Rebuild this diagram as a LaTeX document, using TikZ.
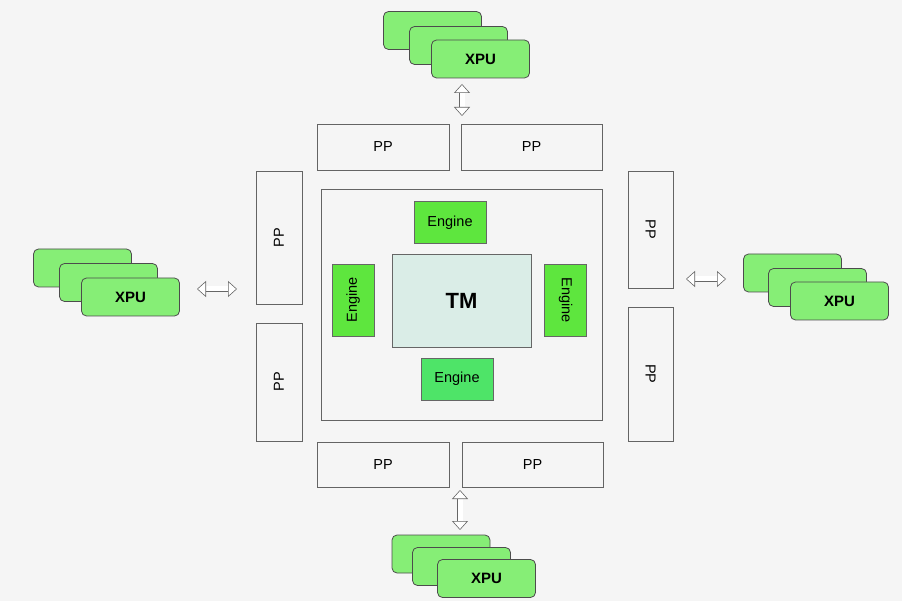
\documentclass[tikz,border=0pt]{standalone}
\usepackage{fontspec}
\setmainfont{Liberation Sans}
\usetikzlibrary{arrows.meta}

\definecolor{bgcol}{RGB}{245,245,245}
\definecolor{xpucol}{RGB}{134,238,118}
\definecolor{engcol}{RGB}{94,230,62}
\definecolor{englow}{RGB}{78,228,104}
\definecolor{tmcol}{RGB}{218,237,231}
\definecolor{linecol}{RGB}{100,100,100}

\begin{document}
\begin{tikzpicture}[x=1pt, y=-1pt,
	xpu/.style={draw=black!70, line width=0.8pt, fill=xpucol, rounded corners=5pt,
		minimum width=98pt, minimum height=38pt, inner sep=0pt,
		font=\fontsize{15}{17}\selectfont\bfseries},
	pp/.style={draw=linecol, line width=0.8pt, fill=bgcol, inner sep=0pt,
		font=\fontsize{14.5}{16}\selectfont},
	engine/.style={draw=black!60, line width=0.8pt, fill=engcol, inner sep=0pt,
		minimum width=72pt, minimum height=42pt,
		font=\fontsize{14.5}{16}\selectfont},
	link/.style={draw=black!60, double=white, double distance=5pt, line width=0.6pt,
		{Triangle[length=9pt, width=16pt, fill=white]}-{Triangle[length=9pt, width=16pt, fill=white]}}
	]
	
	% Background
	\fill[bgcol] (0,0) rectangle (902,601);
	\useasboundingbox (0,0) rectangle (902,601);
	
	% Chip
	\node[draw=linecol, line width=0.8pt, minimum width=281pt, minimum height=231pt] (chip) at (461.5,304.5) {};
	\node[draw=black!60, line width=0.8pt, fill=tmcol, minimum width=139pt, minimum height=93pt,
		font=\fontsize{22}{24}\selectfont\bfseries] (tm) at (461.5,300.5) {TM};
	
	% Engines
	\node[engine] (engT) at (450,222.5) {Engine};
	\node[engine, rotate=90] (engL) at (353,300) {Engine};
	\node[engine, rotate=-90] (engR) at (565.5,300) {Engine};
	\node[engine, fill=englow] (engB) at (457,379) {Engine};
	
	% PP
	\node[pp, minimum width=132pt, minimum height=46pt] (ppT1) at (383,147) {PP};
	\node[pp, minimum width=141pt, minimum height=46pt] (ppT2) at (531.5,147) {PP};
	\node[pp, minimum width=132pt, minimum height=45pt] (ppB1) at (383,464.5) {PP};
	\node[pp, minimum width=141pt, minimum height=45pt] (ppB2) at (532.5,464.5) {PP};
	\node[pp, rotate=90, minimum width=133pt, minimum height=46pt] (ppL1) at (279,237.5) {PP};
	\node[pp, rotate=90, minimum width=118pt, minimum height=46pt] (ppL2) at (279,382) {PP};
	\node[pp, rotate=-90, minimum width=117pt, minimum height=45pt] (ppR1) at (650.5,229.5) {PP};
	\node[pp, rotate=-90, minimum width=134pt, minimum height=45pt] (ppR2) at (650.5,374) {PP};
	
	% XPU stacks
	\node[xpu] (xpuT1) at (432.5,30.5) {};
	\node[xpu] (xpuT2) at (458.5,45.5) {};
	\node[xpu] (xpuT3) at (480.5,59) {XPU};
	
	\node[xpu] (xpuL1) at (82.5,268) {};
	\node[xpu] (xpuL2) at (108.5,282.5) {};
	\node[xpu] (xpuL3) at (130.5,297) {XPU};
	
	\node[xpu] (xpuR1) at (792.5,273) {};
	\node[xpu] (xpuR2) at (817.5,287.5) {};
	\node[xpu] (xpuR3) at (839.5,301) {XPU};
	
	\node[xpu] (xpuB1) at (441,554) {};
	\node[xpu] (xpuB2) at (461.5,566.5) {};
	\node[xpu] (xpuB3) at (486.5,578.5) {XPU};
	
	% Links
	\coordinate (lnkT1) at (462,84);
	\coordinate (lnkT2) at (462,116);
	\coordinate (lnkB1) at (460,490);
	\coordinate (lnkB2) at (460,530);
	\coordinate (lnkL1) at (197,289);
	\coordinate (lnkL2) at (237,289);
	\coordinate (lnkR1) at (686,279);
	\coordinate (lnkR2) at (726,279);
	
	\draw[link] (lnkT1) -- (lnkT2);
	\draw[link] (lnkB1) -- (lnkB2);
	\draw[link] (lnkL1) -- (lnkL2);
	\draw[link] (lnkR1) -- (lnkR2);
	
\end{tikzpicture}
\end{document}
